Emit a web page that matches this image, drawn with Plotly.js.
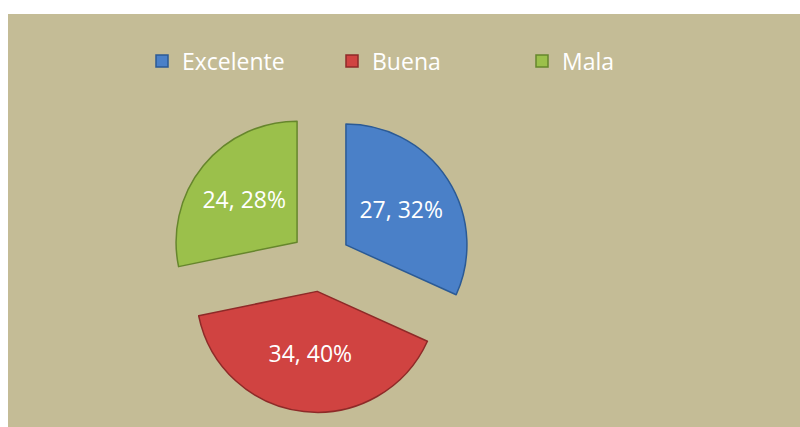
<!DOCTYPE html>
<html>
<head>
<meta charset="utf-8">
<script src="https://cdn.plot.ly/plotly-3.0.1.min.js"></script>
<style>html,body{margin:0;padding:0;background:#fff;}#chart{width:800px;height:427px;}</style>
</head>
<body>
<div id="chart"></div>
<script>
const categories = ["Excelente", "Buena", "Mala"];
const values = [27, 34, 24];
const sliceColors = ["#4a80c8", "#d04341", "#9bc04b"];
const edgeColors = ["#2b5a95", "#8e2a28", "#66862c"];

const trace = {
  type: "pie",
  labels: categories,
  values: values,
  sort: false,
  direction: "clockwise",
  rotation: 0,
  pull: [0.25, 0.25, 0.25],
  marker: { colors: sliceColors, line: { color: edgeColors, width: 1.5 } },
  texttemplate: "%{value}, %{percent:.0%}",
  textposition: "inside",
  insidetextorientation: "horizontal",
  textfont: { family: "Open Sans, sans-serif", size: 23, color: "#ffffff" },
  hoverinfo: "label+value+percent",
  domain: { x: [0.2116, 0.5897], y: [0.0338, 0.7423] }
};

const layout = {
  width: 800,
  height: 427,
  margin: { l: 0, r: 0, t: 0, b: 0 },
  paper_bgcolor: "#ffffff",
  shapes: [{
    type: "rect", xref: "paper", yref: "paper", layer: "below",
    x0: 8 / 800, x1: 1, y0: 0, y1: (427 - 14) / 427,
    fillcolor: "#c4bc96", line: { width: 0 }
  }],
  showlegend: true,
  legend: {
    orientation: "h",
    x: 0.1775, xanchor: "left",
    y: 0.857, yanchor: "middle",
    font: { family: "Open Sans, sans-serif", size: 23, color: "#ffffff" },
    bgcolor: "rgba(0,0,0,0)",
    entrywidth: 145,
    traceorder: "normal"
  }
};

Plotly.newPlot("chart", [trace], layout, { displayModeBar: false, staticPlot: true });
</script>
</body>
</html>
